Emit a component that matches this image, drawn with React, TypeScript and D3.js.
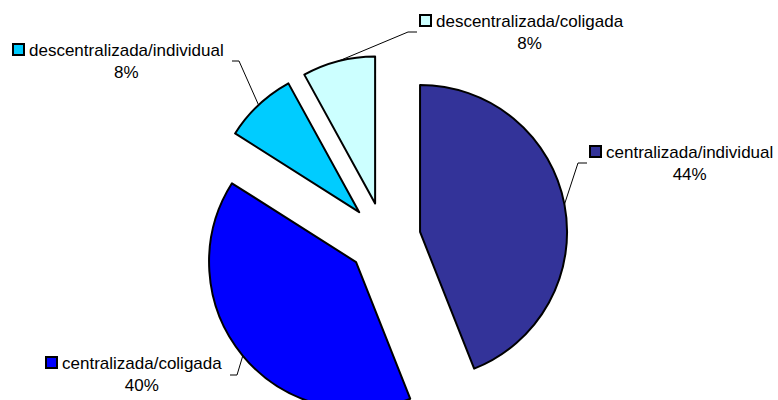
import React from "react";
import * as d3 from "d3";

// Share of each organisational form (percent)
const categories = [
  "centralizada/individual",
  "centralizada/coligada",
  "descentralizada/individual",
  "descentralizada/coligada",
];
const values = [44, 40, 8, 8];
const colors = ["#333399", "#0000FF", "#00CCFF", "#CCFFFF"];

// Label layout: legend-key left edge, text baseline, leader elbow and end
const labelLayout = [
  { keyX: 589, baseY: 158, elbow: [578, 163], end: [587, 163] },
  { keyX: 45, baseY: 369, elbow: [237, 375], end: [230, 375] },
  { keyX: 12, baseY: 56, elbow: [239, 61], end: [232, 61] },
  { keyX: 419, baseY: 27, elbow: [408, 32], end: [417, 32] },
];

const W = 778;
const H = 400;
const cx = 384.2;
const cy = 238.8;
const radius = 147;
const explode = 36.5;
const fontSize = 17;

export default function App() {
  const pie = d3
    .pie<number>()
    .sort(null)
    .value((d) => d)
    .startAngle(0)
    .endAngle(2 * Math.PI);
  const arcs = pie(values);
  const arc = d3.arc<d3.PieArcDatum<number>>().innerRadius(0).outerRadius(radius);

  return (
    <svg
      width={W}
      height={H}
      style={{ position: "absolute", left: 0, top: 0, background: "#fff" }}
      fontFamily="'Liberation Sans', Arial, sans-serif"
      fontSize={fontSize}
    >
      {arcs.map((a, i) => {
        const mid = (a.startAngle + a.endAngle) / 2;
        const ox = cx + explode * Math.sin(mid);
        const oy = cy - explode * Math.cos(mid);
        return (
          <path
            key={categories[i]}
            d={arc(a) || ""}
            transform={`translate(${ox},${oy})`}
            fill={colors[i]}
            stroke="#000"
            strokeWidth={2}
            strokeLinejoin="round"
          />
        );
      })}
      {arcs.map((a, i) => {
        const mid = (a.startAngle + a.endAngle) / 2;
        const ax = cx + (explode + radius) * Math.sin(mid);
        const ay = cy - (explode + radius) * Math.cos(mid);
        const L = labelLayout[i];
        return (
          <polyline
            key={"leader-" + i}
            points={`${ax},${ay} ${L.elbow[0]},${L.elbow[1]} ${L.end[0]},${L.end[1]}`}
            fill="none"
            stroke="#000"
            strokeWidth={1}
          />
        );
      })}
      {categories.map((c, i) => {
        const L = labelLayout[i];
        return (
          <g key={"label-" + c}>
            <rect
              x={L.keyX + 1}
              y={L.baseY - 12}
              width={11}
              height={11}
              fill={colors[i]}
              stroke="#000"
              strokeWidth={2}
            />
            <LabelText x={L.keyX + 17} y={L.baseY} name={c} pct={`${values[i]}%`} />
          </g>
        );
      })}
    </svg>
  );
}

function LabelText({ x, y, name, pct }: { x: number; y: number; name: string; pct: string }) {
  const ref = React.useRef<SVGTextElement>(null);
  const [w, setW] = React.useState(0);
  React.useLayoutEffect(() => {
    if (ref.current) setW(ref.current.getComputedTextLength());
  }, [name]);
  return (
    <g>
      <text ref={ref} x={x} y={y} fill="#000">
        {name}
      </text>
      <text x={x + w / 2} y={y + 22} textAnchor="middle" fill="#000">
        {pct}
      </text>
    </g>
  );
}
